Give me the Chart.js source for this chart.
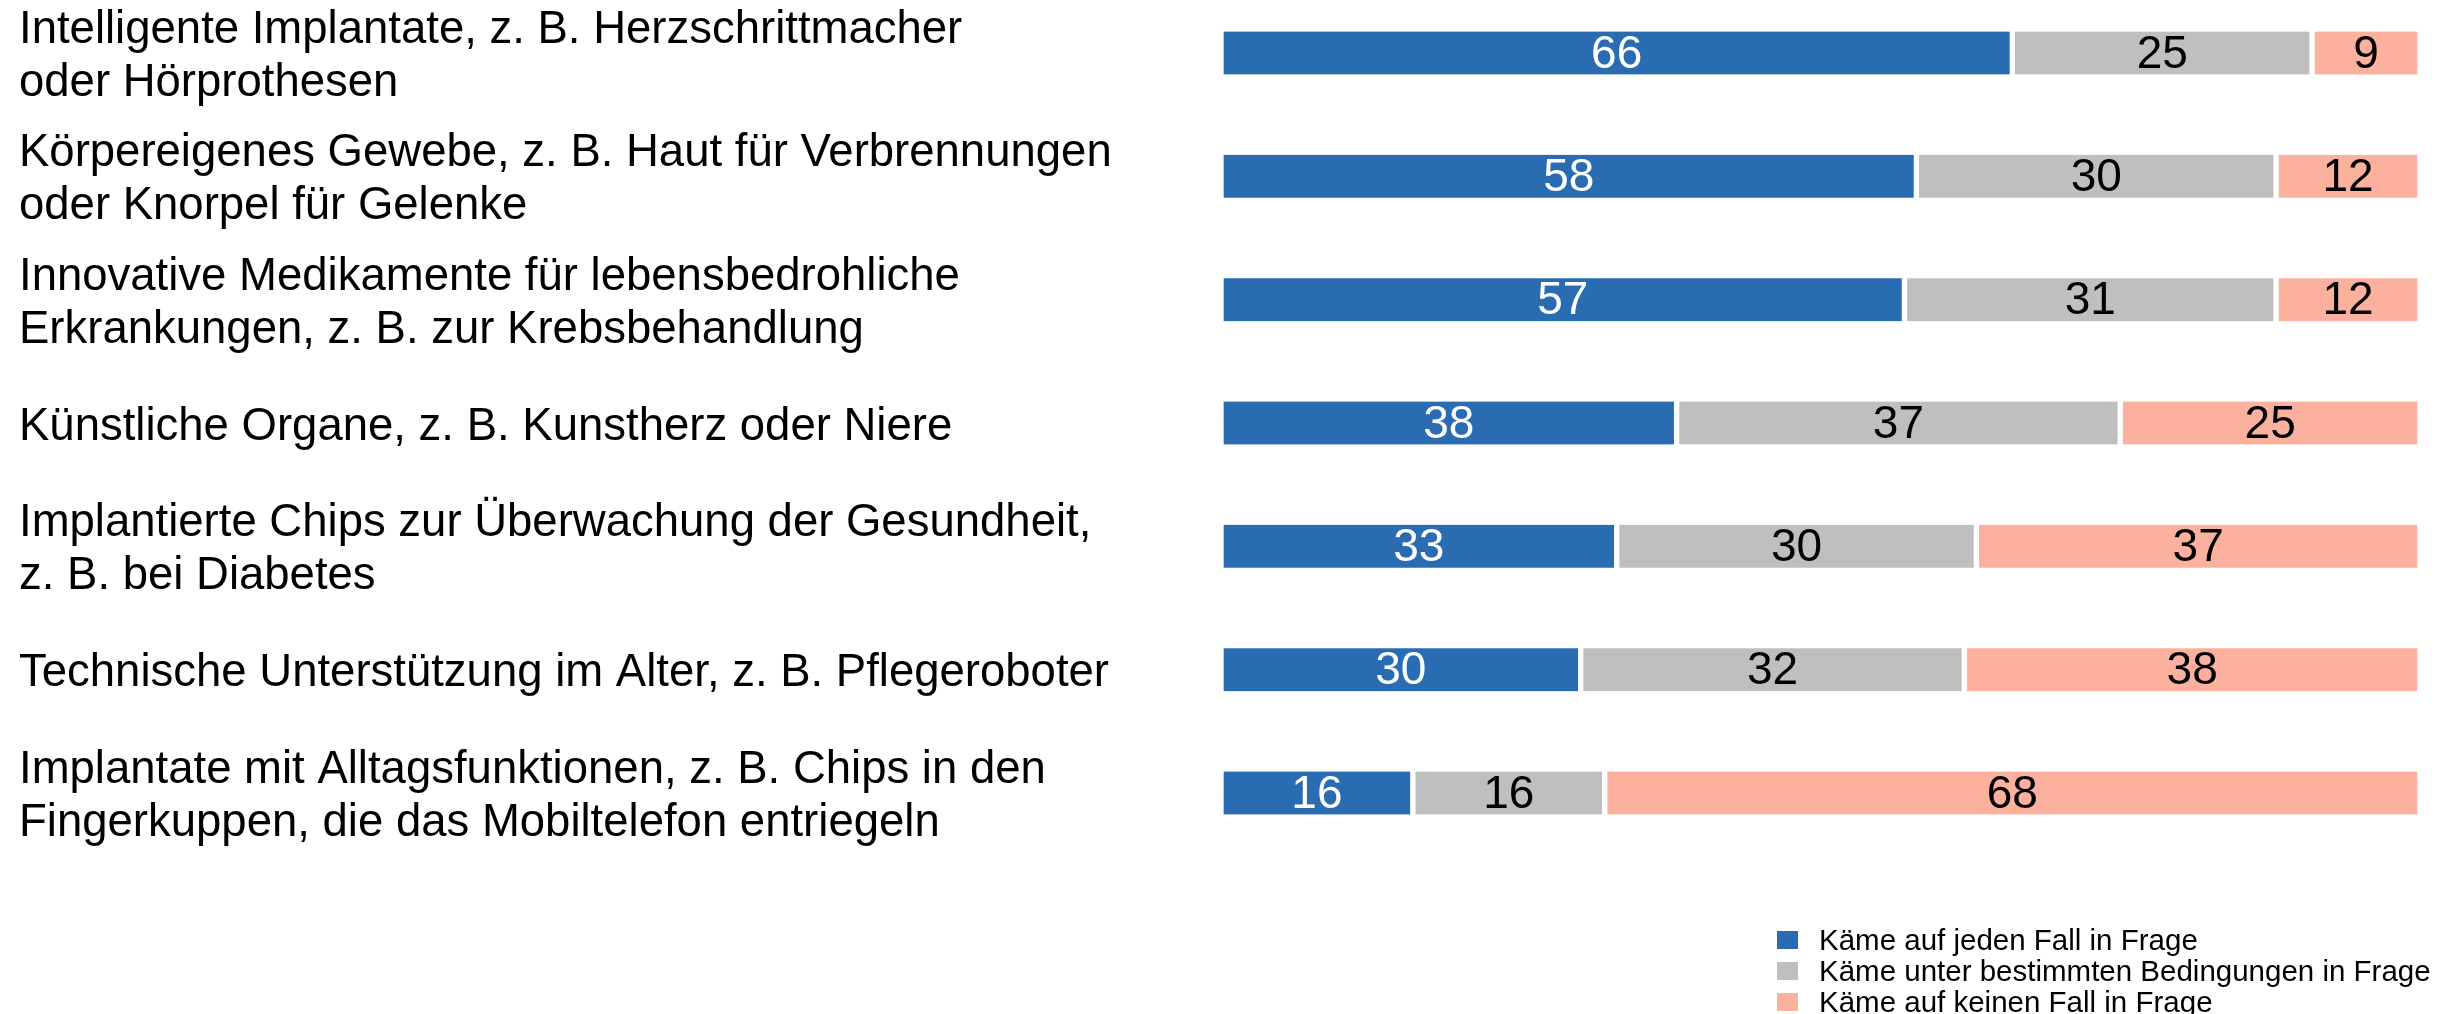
<!DOCTYPE html>
<html lang="de">
<head>
<meta charset="utf-8">
<title>Medizinische Technologien</title>
<script src="https://cdn.jsdelivr.net/npm/chart.js@4/dist/chart.umd.min.js"></script>
<style>
    html, body { margin: 0; padding: 0; background: #fff; }
    #wrap { position: relative; width: 2457px; height: 1014px; }
    #legend {
        position: absolute; left: 1777px; top: 924px;
        font-family: "Liberation Sans", Arial, sans-serif; font-size: 29.5px; color: #000;
    }
    #legend .item { display: flex; align-items: center; height: 31px; white-space: nowrap; }
    #legend .box { width: 21px; height: 18px; margin-right: 21px; }
</style>
</head>
<body>
<div id="wrap">
    <canvas id="chart"></canvas>
    <div id="legend"></div>
</div>
<script>
// Kategorien (mehrzeilige Beschriftungen als Arrays)
const categories = [
    ['Intelligente Implantate, z. B. Herzschrittmacher', 'oder Hörprothesen'],
    ['Körpereigenes Gewebe, z. B. Haut für Verbrennungen', 'oder Knorpel für Gelenke'],
    ['Innovative Medikamente für lebensbedrohliche', 'Erkrankungen, z. B. zur Krebsbehandlung'],
    'Künstliche Organe, z. B. Kunstherz oder Niere',
    ['Implantierte Chips zur Überwachung der Gesundheit,', 'z. B. bei Diabetes'],
    'Technische Unterstützung im Alter, z. B. Pflegeroboter',
    ['Implantate mit Alltagsfunktionen, z. B. Chips in den', 'Fingerkuppen, die das Mobiltelefon entriegeln']
];

// Anteile in Prozent
const aufJedenFall = [66, 58, 57, 38, 33, 30, 16];
const unterBedingungen = [25, 30, 31, 37, 30, 32, 16];
const aufKeinenFall = [9, 12, 12, 25, 37, 38, 68];

const seriesNames = [
    'Käme auf jeden Fall in Frage',
    'Käme unter bestimmten Bedingungen in Frage',
    'Käme auf keinen Fall in Frage'
];
const seriesColors = ['#2a6cb2', '#bfbfbf', '#fbb19e'];
const labelColors = ['#ffffff', '#000000', '#000000'];

const FONT = '"Liberation Sans", Arial, sans-serif';

// Werte mittig in die Balken schreiben
const valueLabels = {
    id: 'valueLabels',
    afterDatasetsDraw(chart) {
        const ctx = chart.ctx;
        ctx.save();
        ctx.font = `46px ${FONT}`;
        ctx.textAlign = 'center';
        ctx.textBaseline = 'middle';
        chart.data.datasets.forEach((ds, i) => {
            const meta = chart.getDatasetMeta(i);
            ctx.fillStyle = labelColors[i];
            meta.data.forEach((bar, j) => {
                const x = (bar.x + bar.base) / 2;
                ctx.fillText(String(ds.data[j]), x, bar.y + 2);
            });
        });
        ctx.restore();
    }
};

const datasets = [aufJedenFall, unterBedingungen, aufKeinenFall].map((values, i) => ({
    label: seriesNames[i],
    data: values,
    backgroundColor: seriesColors[i],
    borderColor: '#ffffff',
    borderWidth: { left: 3, right: 3, top: 0, bottom: 0 },
    borderSkipped: false,
    barThickness: 43,
    clip: false
}));

new Chart(document.getElementById('chart'), {
    type: 'bar',
    data: { labels: categories, datasets: datasets },
    options: {
        indexAxis: 'y',
        responsive: true,
        maintainAspectRatio: false,
        animation: false,
        layout: { padding: { left: 19, right: 37, top: 53, bottom: 221 } },
        scales: {
            x: {
                stacked: true,
                min: 0,
                max: 100,
                display: false
            },
            y: {
                stacked: true,
                offset: false,
                grid: { display: false },
                border: { display: false },
                ticks: {
                    crossAlign: 'far',
                    padding: 0,
                    labelOffset: 4,
                    color: '#000',
                    font: { family: FONT, size: 45.5, lineHeight: 1.17 }
                },
                afterFit(scale) {
                    scale.width = 1202;
                    scale.paddingTop = 0;
                    scale.paddingBottom = 0;
                }
            }
        },
        plugins: {
            legend: { display: false },
            tooltip: { enabled: false }
        }
    },
    plugins: [valueLabels]
});

// Legende unten rechts
const legendEl = document.getElementById('legend');
seriesNames.forEach((name, i) => {
    const item = document.createElement('div');
    item.className = 'item';
    const box = document.createElement('span');
    box.className = 'box';
    box.style.background = seriesColors[i];
    const text = document.createElement('span');
    text.textContent = name;
    item.appendChild(box);
    item.appendChild(text);
    legendEl.appendChild(item);
});
</script>
</body>
</html>
